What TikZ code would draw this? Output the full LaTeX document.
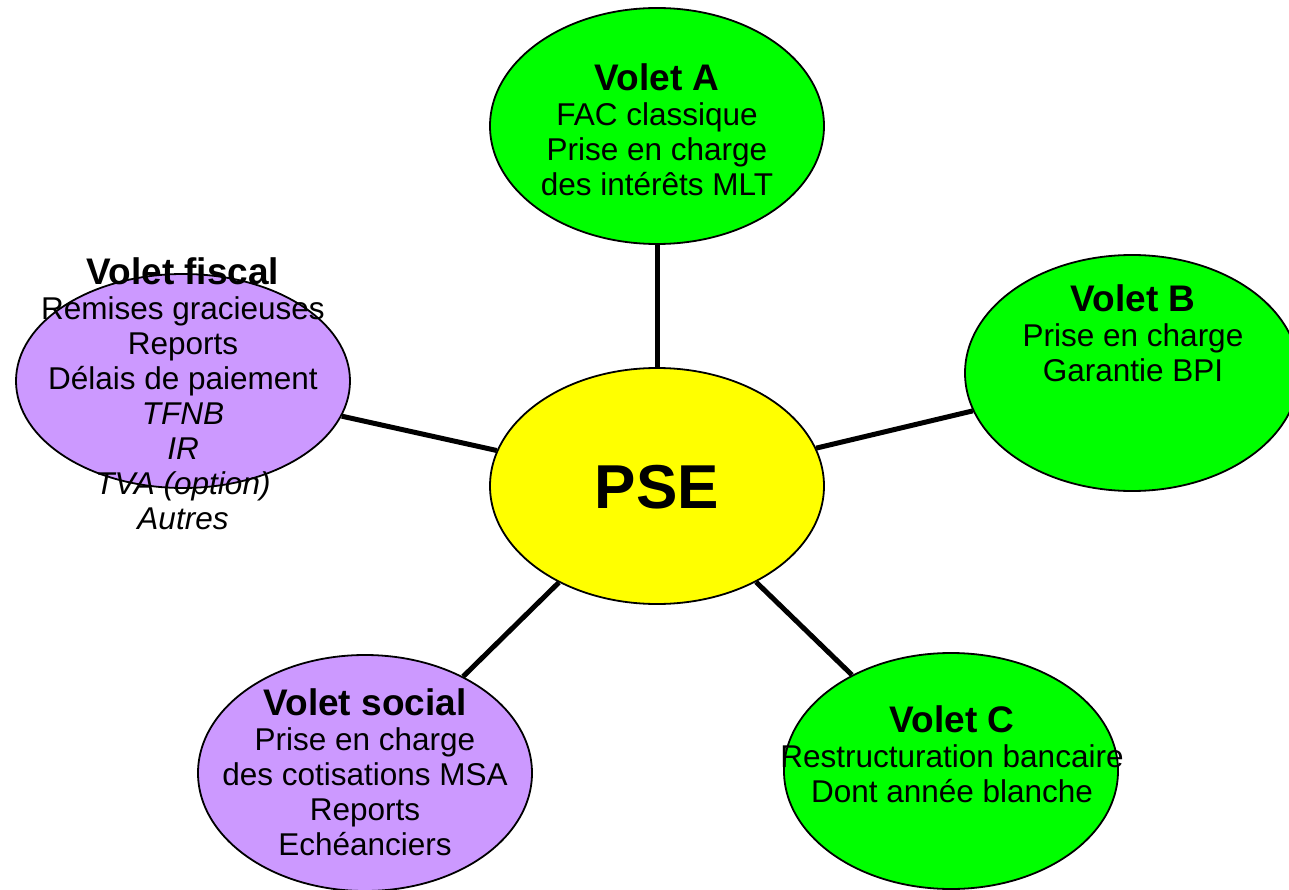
\documentclass[tikz,border=0pt]{standalone}
\usepackage{fontspec}
\setmainfont{Liberation Sans}
\usetikzlibrary{shapes.geometric}
\definecolor{vert}{HTML}{00FF00}
\definecolor{jaune}{HTML}{FFFF00}
\definecolor{mauve}{HTML}{CC99FF}
\newcommand{\titre}[1]{{\fontsize{37}{37}\selectfont\bfseries #1}}
\begin{document}
\begin{tikzpicture}[x=1pt, y=-1pt,
	volet/.style={ellipse, draw, line width=1.8pt, minimum width=334pt, minimum height=236pt, inner sep=0pt},
	txt/.style={align=center, inner sep=0pt, font=\fontsize{31.5}{35}\selectfont}]
			\clip (0,0) rectangle (1289,890);
			\node[volet, fill=jaune] (pse) at (657,486) {};
			\node[volet, fill=vert] (va) at (657,126) {};
			\node[volet, fill=vert] (vb) at (1132,373) {};
			\node[volet, fill=vert] (vc) at (951,771) {};
			\node[volet, fill=mauve] (vs) at (365,773) {};
			\node[volet, fill=mauve, minimum height=214pt] (vf) at (183,381) {};
			
			\foreach \from/\to in {pse/va,pse/vb,pse/vc,pse/vs,pse/vf}
			\draw[line width=5pt] (\from) -- (\to);
			
			\node[txt, font=\fontsize{62}{62}\selectfont\bfseries] (tpse) at (657,487) {PSE};
			\node[txt] (ta) at (657,130) {\titre{Volet A}\\FAC classique\\Prise en charge\\des intérêts MLT};
			\node[txt] (tb) at (1133,333) {\titre{Volet B}\\Prise en charge\\Garantie BPI};
			\node[txt] (tc) at (952,754) {\titre{Volet C}\\Restructuration bancaire\\Dont année blanche};
			\node[txt] (ts) at (365,772) {\titre{Volet social}\\Prise en charge\\des cotisations MSA\\Reports\\Echéanciers};
			\node[txt] (tf) at (183,394) {\titre{Volet fiscal}\\Remises gracieuses\\Reports\\Délais de paiement\\\textit{TFNB}\\\textit{IR}\\\textit{TVA (option)}\\\textit{Autres}};
			\end{tikzpicture}
\end{document}
